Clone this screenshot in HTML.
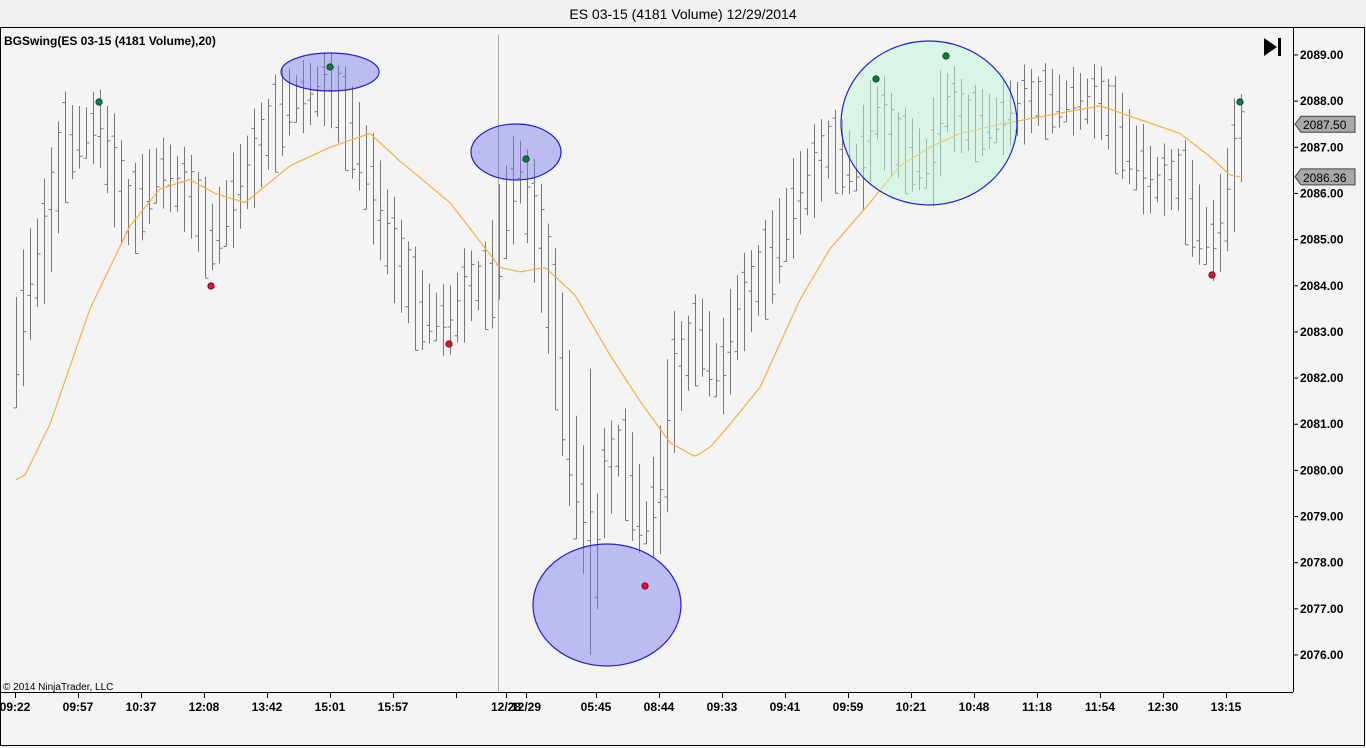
<!DOCTYPE html>
<html><head><meta charset="utf-8"><style>
html,body{margin:0;padding:0;background:#f4f4f4;width:1366px;height:748px;overflow:hidden}
svg{display:block;font-family:"Liberation Sans",Arial,sans-serif}
</style></head><body>
<svg id="s" width="1366" height="748" xmlns="http://www.w3.org/2000/svg">
<rect x="0" y="0" width="1366" height="748" fill="#f0f0f0"/>
<text x="683" y="19" text-anchor="middle" font-size="14" fill="#000">ES 03-15 (4181 Volume)  12/29/2014</text>
<rect x="0.5" y="27.5" width="1364" height="718" fill="#f4f4f4" stroke="#000"/>
<line x1="1293.5" y1="28" x2="1293.5" y2="692" stroke="#000"/>
<line x1="0" y1="692.5" x2="1293" y2="692.5" stroke="#000"/>
<line x1="498.5" y1="35" x2="498.5" y2="692" stroke="#aaa"/>
<text x="4" y="45" font-size="12" font-weight="bold" fill="#000">BGSwing(ES 03-15 (4181 Volume),20)</text>
<text x="3" y="690" font-size="10" fill="#000">© 2014 NinjaTrader, LLC</text>
<polygon points="1264,38 1264,56 1277,47" fill="#000"/>
<rect x="1278" y="38" width="3" height="18" fill="#000"/>
<g id="bars" stroke="#777" stroke-width="1"></g>
<polyline id="ma" fill="none" stroke="#f5b040" stroke-width="1.2"/>
<g id="ov"></g>
<g id="ax" font-size="12" font-weight="bold" fill="#000"></g>
</svg>
<script>
var NS="http://www.w3.org/2000/svg";
function Y(p){return 55+(2089-p)*46.154;}
function el(t,a,par){var e=document.createElementNS(NS,t);for(var k in a)e.setAttribute(k,a[k]);if(par)par.appendChild(e);return e;}
var kp=[[16,2082.5],[30,2084],[45,2085],[65,2087],[99,2087.5],[130,2085.5],[160,2086.5],[190,2086],[211,2085],[230,2085.7],[260,2087],[290,2088],[330,2088.3],[360,2087],[390,2085],[420,2083.5],[449,2083.2],[470,2084],[490,2084],[505,2085.5],[520,2086.5],[540,2085],[560,2082.5],[575,2080],[590,2078.5],[600,2079.5],[620,2080.5],[645,2078.8],[660,2079.5],[675,2082],[700,2083],[720,2082],[740,2083.5],[770,2084.5],[800,2086],[830,2087],[860,2086.5],[876,2087.8],[900,2087],[930,2086.6],[946,2088],[970,2087.5],[1000,2087.6],[1030,2088],[1070,2088],[1100,2088],[1130,2087],[1150,2086.3],[1180,2086.3],[1200,2085.3],[1212,2084.9],[1225,2085.6],[1240,2087.2]];
function interp(k,x){for(var i=0;i<k.length-1;i++){if(x<=k[i+1][0]){var t=(x-k[i][0])/(k[i+1][0]-k[i][0]);return k[i][1]+t*(k[i+1][1]-k[i][1]);}}return k[k.length-1][1];}
var bars=document.getElementById('bars');var d="";
for(var i=0;i<=175;i++){var x=16+7*i+0.5;var c=interp(kp,x);var sl=Math.abs(interp(kp,x+7)-interp(kp,x-7));
var r=0.9+sl*1.0+((i*37)%10)/12;var hi=c+r/2,lo=c-r/2;
if(Math.abs(x-590.5)<1){hi=2082.2;lo=2076;}
if(Math.abs(x-597.5)<1){hi=2079.5;lo=2077;}
var o=lo+(hi-lo)*(((i*7)%10)/10),cl=lo+(hi-lo)*(((i*11+3)%10)/10);
d+="M"+x+" "+Y(hi)+"V"+Y(lo)+"M"+(x-3)+" "+Y(o)+"H"+x+"M"+x+" "+Y(cl)+"H"+(x+3);}
el('path',{d:d,fill:'none'},bars);
var ma=[[16,2079.8],[25,2079.9],[50,2081],[90,2083.5],[130,2085.3],[160,2086.1],[190,2086.3],[215,2086],[245,2085.8],[290,2086.6],[330,2087],[370,2087.3],[400,2086.7],[450,2085.8],[500,2084.4],[520,2084.3],[545,2084.4],[575,2083.8],[610,2082.5],[640,2081.5],[670,2080.6],[695,2080.3],[710,2080.5],[730,2081],[760,2081.8],[800,2083.7],[830,2084.8],[870,2085.8],[900,2086.6],[930,2087],[960,2087.3],[1000,2087.5],[1050,2087.7],[1100,2087.9],[1140,2087.6],[1180,2087.3],[1210,2086.8],[1230,2086.4],[1240,2086.36]];
var pts=[];for(var x=16;x<=1240;x+=3){pts.push(x+","+Y(interp(ma,x)).toFixed(1));}
document.getElementById('ma').setAttribute('points',pts.join(' '));
var ov=document.getElementById('ov');
[[330,72,49,19],[516,152,45,28],[607,605,74,61]].forEach(function(e){el('ellipse',{cx:e[0],cy:e[1],rx:e[2],ry:e[3],fill:'rgba(120,120,240,0.45)',stroke:'#2020d0','stroke-width':1.2},ov);});
el('ellipse',{cx:929,cy:123,rx:88,ry:82,fill:'rgba(190,245,215,0.5)',stroke:'#2020d0','stroke-width':1.2},ov);
[[99,102],[330,67],[526,159],[876,79],[946,56],[1240,102]].forEach(function(p){el('circle',{cx:p[0],cy:p[1],r:3.2,fill:'#108030',stroke:'#033',"stroke-width":0.8},ov);});
[[211,286],[449,344],[645,586],[1212,275]].forEach(function(p){el('circle',{cx:p[0],cy:p[1],r:3.2,fill:'#e01040',stroke:'#600','stroke-width':0.8},ov);});
var ax=document.getElementById('ax');
for(var p=2076;p<=2089;p++){var y=Y(p);el('line',{x1:1293,y1:y,x2:1298,y2:y,stroke:'#000'},ax);var t=el('text',{x:1300,y:y+4},ax);t.textContent=p+".00";}
[[2087.5,"2087.50"],[2086.36,"2086.36"]].forEach(function(a){var y=Y(a[0]);el('polygon',{points:"1295,"+y+" 1301,"+(y-8)+" 1355,"+(y-8)+" 1355,"+(y+8)+" 1301,"+(y+8),fill:'#a8a8a8',stroke:'#444'},ax);var t=el('text',{x:1303,y:y+5,'font-weight':'normal'},ax);t.textContent=a[1];});
var xl=[[15,"09:22"],[78,"09:57"],[141,"10:37"],[204,"12:08"],[267,"13:42"],[330,"15:01"],[393,"15:57"],[456,""],[506,"12/28"],[526,"12/29"],[596,"05:45"],[659,"08:44"],[722,"09:33"],[785,"09:41"],[848,"09:59"],[911,"10:21"],[974,"10:48"],[1037,"11:18"],[1100,"11:54"],[1163,"12:30"],[1226,"13:15"]];
xl.forEach(function(a){el('line',{x1:a[0]+0.5,y1:692,x2:a[0]+0.5,y2:698,stroke:'#000'},ax);if(a[1]){var t=el('text',{x:a[0],y:711,'text-anchor':'middle'},ax);t.textContent=a[1];}});
</script>
</body></html>
